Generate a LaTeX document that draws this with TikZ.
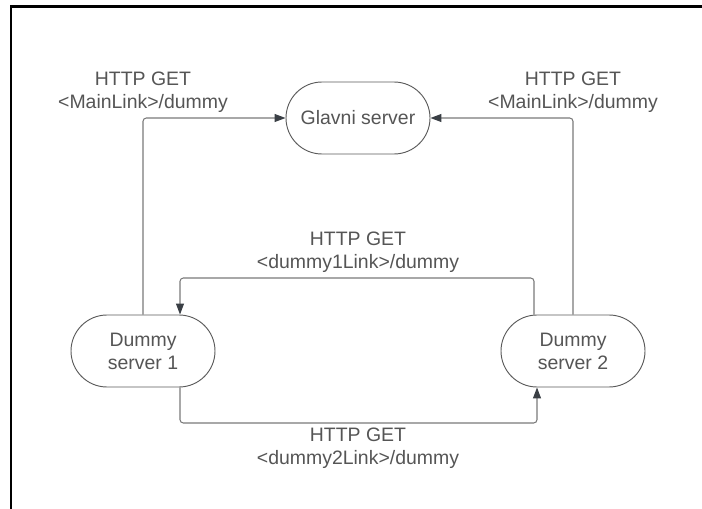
\documentclass[tikz,border=0pt]{standalone}
\usepackage{fontspec}
\setmainfont{Liberation Sans}
\usetikzlibrary{arrows.meta,calc}
\definecolor{txtgray}{HTML}{555555}
\definecolor{boxgray}{HTML}{5A5A5A}
\definecolor{linegray}{HTML}{7A7A7A}
\definecolor{tipgray}{HTML}{3A3F45}
\tikzset{
	server/.style={draw=boxgray, line width=0.8pt, rectangle, rounded corners=1.08cm, minimum width=4.32cm, minimum height=2.16cm, inner sep=0pt, align=center, text=txtgray, font=\fontsize{16.6}{19.6}\selectfont},
	conn/.style={draw=linegray, line width=0.9pt, rounded corners=0.1cm, -{Triangle[length=0.33cm,width=0.24cm,color=tipgray]}},
	lbl/.style={align=center, text=txtgray, inner sep=0pt, font=\fontsize{16.6}{19.6}\selectfont}
}

\begin{document}
\begin{tikzpicture}[x=0.03cm,y=-0.03cm]
				%%%%% START %%%%%
				\def\xmid{358}
				\def\xone{143}
				\def\xtwo{573}
				\def\ytop{118}
				\def\ylow{351}
				
				\useasboundingbox (0,0) rectangle (702,509);
				\draw[line width=1.8pt] (11,520) -- (11,6.5) -- (720,6.5);
				
				\node[server] (glavni) at (\xmid,\ytop) {Glavni server};
				\node[server] (dummyone) at (\xone,\ylow) {Dummy\\server 1};
				\node[server] (dummytwo) at (\xtwo,\ylow) {Dummy\\server 2};
				
				\coordinate (bendone) at (180,278);
				\coordinate (bendtwo) at (537,423);
				
				\draw[conn] (dummyone.north) |- (glavni.west);
				\draw[conn] (dummytwo.north) |- (glavni.east);
				\draw[conn] ([xshift=-1.17cm]dummytwo.north) |- (bendone) -- (bendone |- dummyone.north);
				\draw[conn] (bendone |- dummyone.south) |- (bendtwo) -- (bendtwo |- dummytwo.south);
				
				\node[lbl] (getmainone) at (\xone,92) {HTTP GET\\<MainLink>/dummy};
				\node[lbl] (getmaintwo) at (\xtwo,92) {HTTP GET\\<MainLink>/dummy};
				\node[lbl] (getdummyone) at (\xmid,252) {HTTP GET\\<dummy1Link>/dummy};
				\node[lbl] (getdummytwo) at (\xmid,448) {HTTP GET\\<dummy2Link>/dummy};
				%%%%% END %%%%%
\end{tikzpicture}
\end{document}
